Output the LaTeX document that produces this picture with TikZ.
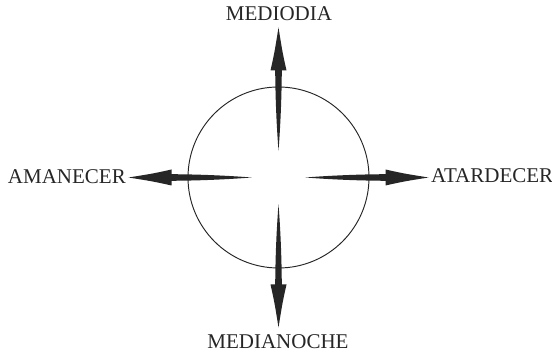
\documentclass[tikz,border=0pt]{standalone}
\usepackage{fontspec}
\setmainfont{Liberation Serif}
\begin{document}
\begin{tikzpicture}[x=1pt,y=1pt,
  lbl/.style={font=\fontsize{21}{24}\selectfont, text=black!85, inner sep=0pt},
  arr/.style={fill=black!85, draw=none}]
\useasboundingbox (0,0) rectangle (552,352);
\coordinate (c) at (278.5,174.5);
\draw[black!85, line width=0.95pt] (c) circle (90.5);
\foreach \ang in {0,90,180,270}{
  \begin{scope}[shift={(c)}, rotate=\ang]
    \fill[arr] (27,0) .. controls (60,2.6) and (90,3.2) .. (107,3.3)
      -- (107,8) .. controls (125,4) .. (150,0) .. controls (125,-4) .. (107,-8) -- (107,-3.3)
      .. controls (90,-3.2) and (60,-2.6) .. (27,0) -- cycle;
  \end{scope}
}
\node[lbl] (n) at (279,338) {MEDIODIA};
\node[lbl] (s) at (278,10) {MEDIANOCHE};
\node[lbl, anchor=east] (w) at (126,175.5) {AMANECER};
\node[lbl, anchor=west] (e) at (431,176.5) {ATARDECER};
\end{tikzpicture}
\end{document}
